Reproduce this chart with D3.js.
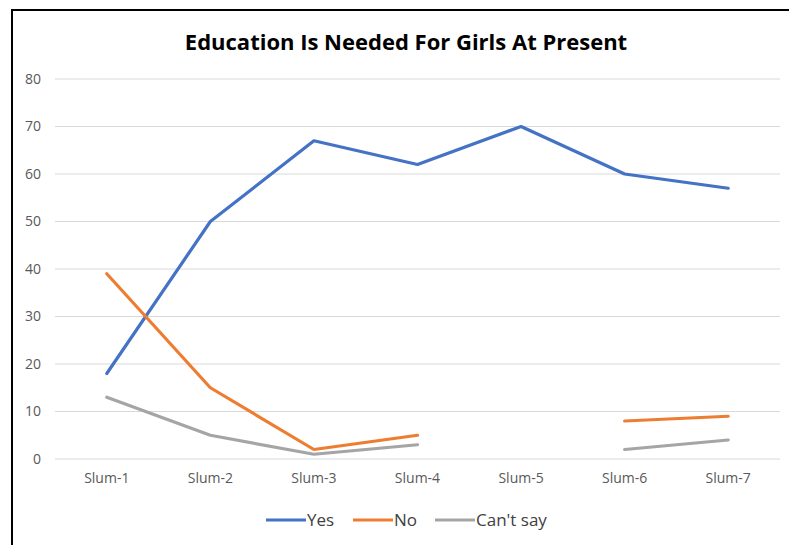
<!DOCTYPE html>
<html>
<head>
<meta charset="utf-8">
<script src="https://cdn.jsdelivr.net/npm/d3@7"></script>
<style>
  html, body { margin: 0; padding: 0; background: #fff; }
  svg { display: block; }
</style>
</head>
<body>
<script>
// Survey responses per slum (percent); null = no response recorded
const categories = ["Slum-1", "Slum-2", "Slum-3", "Slum-4", "Slum-5", "Slum-6", "Slum-7"];
const yesValues = [18, 50, 67, 62, 70, 60, 57];
const noValues = [39, 15, 2, 5, null, 8, 9];
const cantSayValues = [13, 5, 1, 3, null, 2, 4];
const yTicks = [0, 10, 20, 30, 40, 50, 60, 70, 80];
const seriesNames = ["Yes", "No", "Can't say"];
const seriesColors = ["#4472C4", "#ED7D31", "#A5A5A5"];

const series = [
  { name: seriesNames[0], values: yesValues, color: seriesColors[0] },
  { name: seriesNames[1], values: noValues, color: seriesColors[1] },
  { name: seriesNames[2], values: cantSayValues, color: seriesColors[2] }
];

const W = 789, H = 545;
const font = "'Open Sans', sans-serif";

const svg = d3.select("body").append("svg")
  .attr("width", W).attr("height", H);

// frame (top and left edges visible)
svg.append("line").attr("x1", 11).attr("x2", W).attr("y1", 10).attr("y2", 10)
  .attr("stroke", "#000").attr("stroke-width", 2);
svg.append("line").attr("x1", 12).attr("x2", 12).attr("y1", 10).attr("y2", H)
  .attr("stroke", "#000").attr("stroke-width", 2);

const x = d3.scaleBand().domain(categories).range([55, 780]);
const y = d3.scaleLinear().domain([0, 80]).range([459, 79]);

// gridlines
svg.append("g").selectAll("line").data(yTicks).join("line")
  .attr("x1", 55).attr("x2", 780)
  .attr("y1", d => y(d)).attr("y2", d => y(d))
  .attr("stroke", "#d9d9d9").attr("stroke-width", 1);

// y axis labels
const yAxis = svg.append("g").attr("transform", "translate(41,0)")
  .call(d3.axisLeft(y).tickValues(yTicks).tickSize(0).tickPadding(0));
yAxis.select(".domain").remove();
yAxis.selectAll("text").attr("fill", "#595959").style("font-family", font).style("font-size", "14px");

// x axis labels
const xAxis = svg.append("g").attr("transform", "translate(0,473)")
  .call(d3.axisBottom(x).tickSize(0).tickPadding(0));
xAxis.select(".domain").remove();
xAxis.selectAll("text").attr("fill", "#595959").style("font-family", font).style("font-size", "14px");

// lines
const line = d3.line()
  .defined(d => d != null)
  .x((d, i) => x(categories[i]) + x.bandwidth() / 2)
  .y(d => y(d));

svg.append("g").selectAll("path").data(series).join("path")
  .attr("d", s => line(s.values))
  .attr("fill", "none")
  .attr("stroke", s => s.color)
  .attr("stroke-width", 3.2)
  .attr("stroke-linecap", "round")
  .attr("stroke-linejoin", "round");

// title
svg.append("text").attr("x", 406).attr("y", 50)
  .attr("text-anchor", "middle")
  .style("font-family", font).style("font-size", "22px").style("font-weight", "bold")
  .attr("fill", "#000")
  .text("Education Is Needed For Girls At Present");

// legend
const legendX = [266, 353, 435];
const lg = svg.append("g").selectAll("g").data(series).join("g")
  .attr("transform", (d, i) => `translate(${legendX[i]},520)`);
lg.append("line").attr("x1", 0).attr("x2", 40).attr("y1", 0).attr("y2", 0)
  .attr("stroke", d => d.color).attr("stroke-width", 3.2);
lg.append("text").attr("x", 41).attr("y", 6)
  .style("font-family", font).style("font-size", "17px")
  .attr("fill", "#404040")
  .text(d => d.name);
</script>
</body>
</html>
